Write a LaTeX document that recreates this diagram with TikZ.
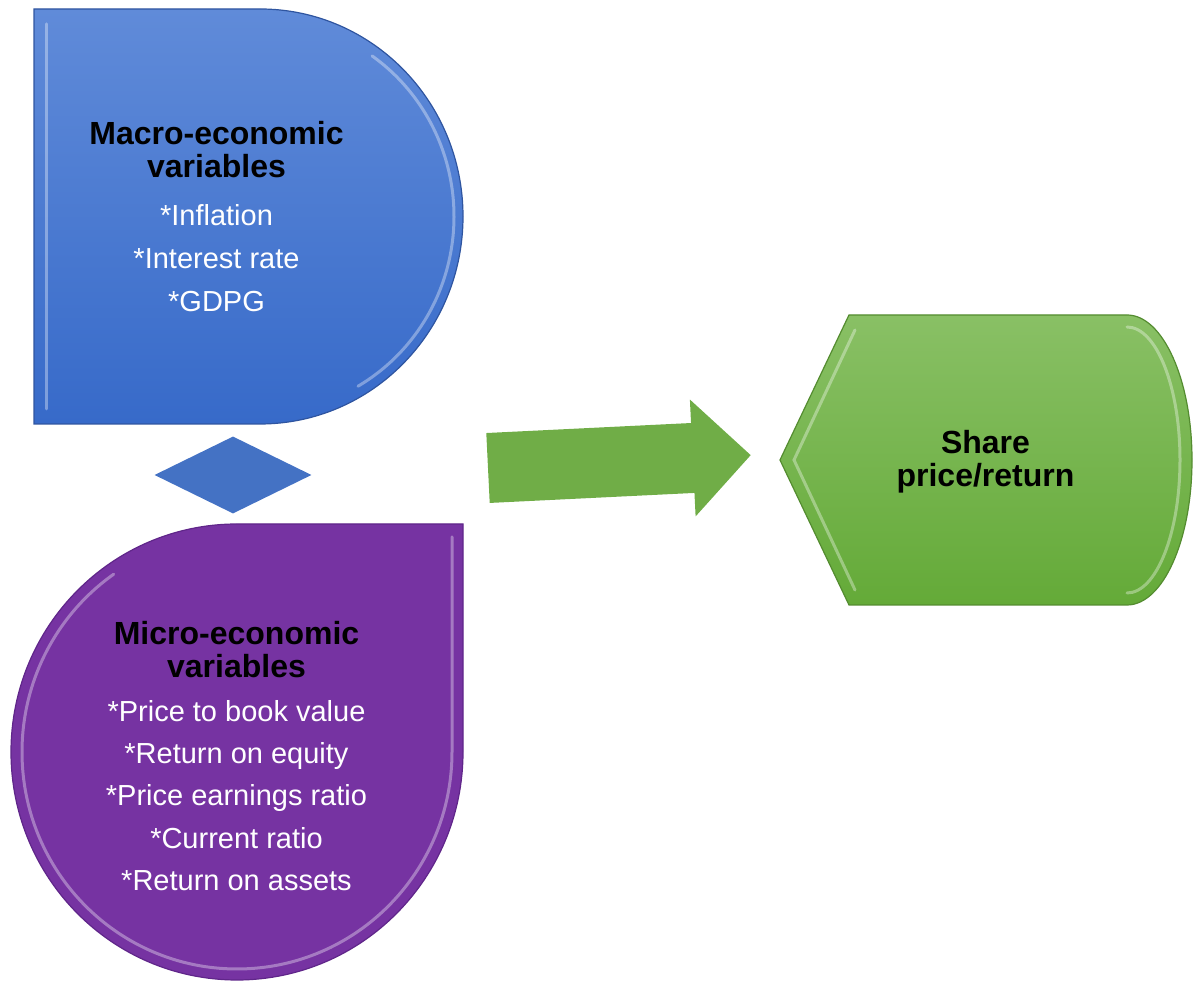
\documentclass[tikz,border=0pt]{standalone}
\usepackage{fontspec}
\setmainfont{Liberation Sans}
\usepackage{tikz}
\usetikzlibrary{positioning,shapes.geometric,calc}
\usepackage{xcolor}
\definecolor{MacroTop}{RGB}{96,139,217}
\definecolor{MacroBottom}{RGB}{55,106,201}
\definecolor{MacroEdge}{RGB}{47,85,160}
\definecolor{MicroFill}{RGB}{118,51,162}
\definecolor{MicroEdge}{RGB}{96,38,138}
\definecolor{ShareTop}{RGB}{137,192,101}
\definecolor{ShareBottom}{RGB}{100,170,56}
\definecolor{ShareEdge}{RGB}{84,140,48}
\definecolor{ArrowGreen}{RGB}{112,173,71}
\definecolor{LinkBlue}{RGB}{68,114,196}

\begin{document}
\begin{tikzpicture}[
    x=1pt, y=1pt,
    panel/.style={draw=#1, line width=1.2pt},
    bevel/.style={draw=white, draw opacity=0.35, line width=3pt, line cap=round},
    heading/.style={inner sep=0pt, align=center, text=black,
        font=\fontsize{32}{33}\selectfont\bfseries},
    entries/.style={inner sep=0pt, align=center, text=white,
        font=\fontsize{29}{#1}\selectfont},
]
\useasboundingbox (0,0) rectangle (1195,981);

% macro-economic panel
\path[panel=MacroEdge, top color=MacroTop, bottom color=MacroBottom]
    (34,557) -- (34,972) -- (260,972)
    arc[start angle=90, end angle=-90, x radius=203, y radius=207.5] -- cycle;
\draw[bevel] (46,572) -- (46,957);
\draw[bevel] ($(262,764.5)+(55:192 and 196)$)
    arc[start angle=55, end angle=-60, x radius=192, y radius=196];

% link between the two panels
\node[diamond, fill=LinkBlue, minimum width=157pt, minimum height=77pt, inner sep=0pt] (link) at (233,506) {};

% micro-economic panel
\path[panel=MicroEdge, fill=MicroFill]
    (463,457) -- (463,229)
    arc[start angle=0, end angle=-270, x radius=226, y radius=228] -- cycle;
\draw[bevel] (452,444) -- (452,229)
    arc[start angle=0, end angle=-235, x radius=215, y radius=217];

% block arrow
\begin{scope}[shift={(488,513)}, rotate=2.8]
  \fill[ArrowGreen] (0,35) -- (205,35) -- (205,58.5) -- (263,0)
      -- (205,-58.5) -- (205,-35) -- (0,-35) -- cycle;
\end{scope}

% share price panel
\path[panel=ShareEdge, top color=ShareTop, bottom color=ShareBottom]
    (780,521) -- (849,666) -- (1127,666)
    arc[start angle=90, end angle=-90, x radius=65, y radius=145]
    -- (849,376) -- cycle;
\draw[bevel] (855,651) -- (794,521) -- (855,391);
\draw[bevel] (1127,654) arc[start angle=90, end angle=-90, x radius=53, y radius=133];

% texts
\node[heading] (macrotitle) at (216.5,831) {Macro-economic\\variables};
\node[entries=43, below=26pt of macrotitle] (macrolist)
    {*Inflation\\*Interest rate\\*GDPG};

\node[heading] (microtitle) at (236.5,331.5) {Micro-economic\\variables};
\node[entries=42.3, below=22pt of microtitle] (microlist)
    {*Price to book value\\*Return on equity\\*Price earnings ratio\\*Current ratio\\*Return on assets};

\node[heading] (share) at (985.5,519) {Share\\price/return};
\end{tikzpicture}
\end{document}
